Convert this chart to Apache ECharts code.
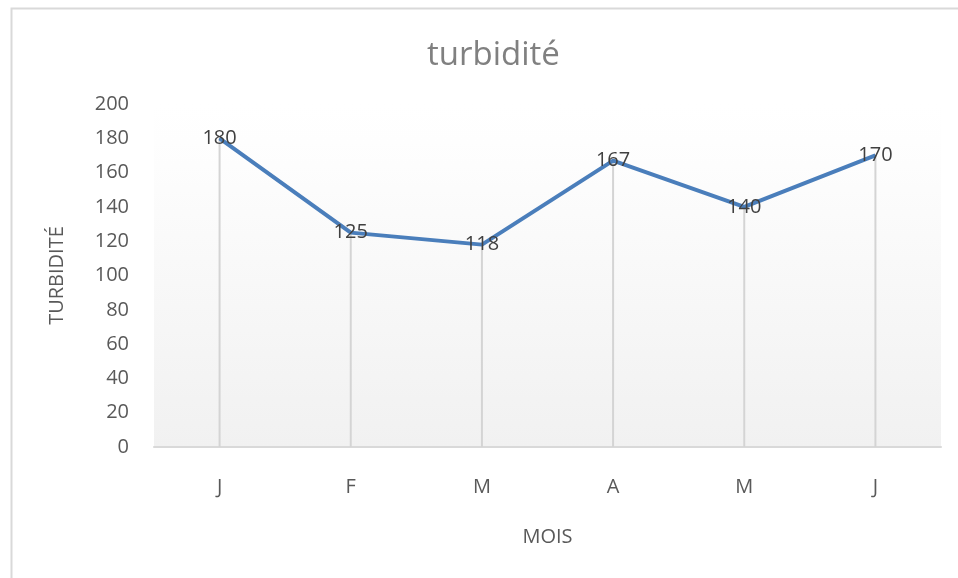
<!DOCTYPE html>
<html>
<head>
    <meta charset="UTF-8">
    <script src="https://cdn.jsdelivr.net/npm/echarts@6/dist/echarts.min.js"></script>
    <style>
        html, body { margin: 0; padding: 0; background: #fff; }
        #main { width: 958px; height: 578px; }
    </style>
</head>
<body>
<div id="main"></div>
<script>
    // données
    var mois = ['J', 'F', 'M', 'A', 'M', 'J'];
    var turbidite = [180, 125, 118, 167, 140, 170];
    var yTicks = [0, 20, 40, 60, 80, 100, 120, 140, 160, 180, 200];

    var font = 'Open Sans';
    var myChart = echarts.init(document.getElementById('main'));

    var option = {
        backgroundColor: '#ffffff',
        title: {
            text: 'turbidité',
            left: 422,
            top: 34,
            textStyle: {
                fontFamily: font,
                fontSize: 33,
                fontWeight: 'normal',
                color: '#808080'
            }
        },
        // cadre du graphique
        graphic: [{
            type: 'rect',
            left: 9,
            top: 6,
            shape: { width: 1000, height: 1000 },
            style: { fill: 'none', stroke: '#d9d9d9', lineWidth: 2 },
            silent: true
        }],
        grid: {
            left: 154,
            right: 17,
            top: 104,
            bottom: 131,
            show: true,
            borderWidth: 0,
            backgroundColor: {
                type: 'linear', x: 0, y: 0, x2: 0, y2: 1,
                colorStops: [
                    { offset: 0, color: '#ffffff' },
                    { offset: 0.11, color: '#fefefe' },
                    { offset: 1, color: '#f1f1f1' }
                ]
            }
        },
        xAxis: {
            type: 'category',
            data: mois,
            name: 'MOIS',
            nameLocation: 'middle',
            nameGap: 80,
            nameTextStyle: { fontFamily: font, fontSize: 20, color: '#595959' },
            axisLine: { lineStyle: { color: '#d9d9d9', width: 2 } },
            axisTick: { show: false },
            axisLabel: { margin: 30, fontFamily: font, fontSize: 20, color: '#595959' },
            splitLine: { show: false }
        },
        yAxis: {
            type: 'value',
            min: yTicks[0],
            max: yTicks[yTicks.length - 1],
            interval: yTicks[1] - yTicks[0],
            name: 'TURBIDITÉ',
            nameLocation: 'middle',
            nameGap: 87,
            nameTextStyle: { fontFamily: font, fontSize: 20, color: '#595959' },
            axisLine: { show: false },
            axisTick: { show: false },
            axisLabel: { margin: 25, fontFamily: font, fontSize: 20, color: '#595959' },
            splitLine: { show: false }
        },
        series: [
            {
                // lignes de projection
                name: 'drop',
                type: 'bar',
                data: turbidite,
                barWidth: 2,
                silent: true,
                itemStyle: { color: '#d4d4d4' },
                z: 1
            },
            {
                name: 'turbidité',
                type: 'line',
                data: turbidite,
                symbol: 'circle',
                symbolSize: 1,
                showSymbol: true,
                lineStyle: { color: '#4a7ebb', width: 4 },
                itemStyle: { color: '#4a7ebb' },
                label: {
                    show: true,
                    position: 'inside',
                    fontFamily: font,
                    fontSize: 20,
                    color: '#404040'
                },
                z: 3
            }
        ]
    };
    myChart.setOption(option);
</script>
</body>
</html>
